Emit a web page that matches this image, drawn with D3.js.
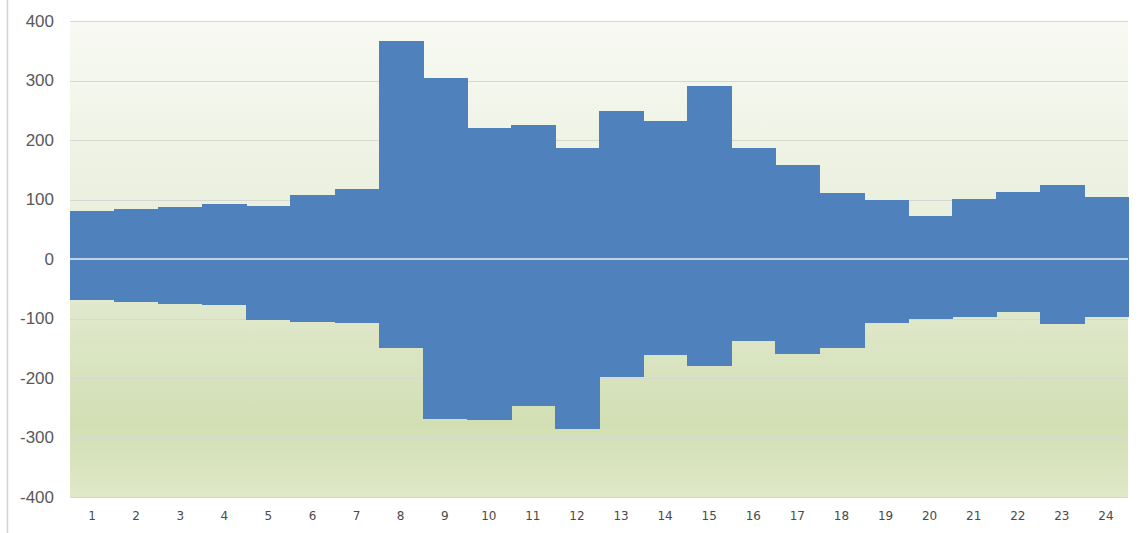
<!DOCTYPE html>
<html>
<head>
<meta charset="utf-8">
<script src="https://cdn.jsdelivr.net/npm/d3@7"></script>
<style>
  body { margin: 0; background: #fff; }
  svg { display: block; }
</style>
</head>
<body>
<div id="chart"></div>
<script>
// hours 1..24, upper and lower values
const categories = ['1','2','3','4','5','6','7','8','9','10','11','12','13','14','15','16','17','18','19','20','21','22','23','24']
const upperValues = [80, 84, 87, 92, 89, 107, 118, 366, 305, 220, 225, 186, 249, 232, 290, 186, 158, 111, 100, 72, 101, 112, 124, 105]
const lowerValues = [-69, -73, -75, -77, -103, -106, -107, -150, -269, -271, -247, -285, -198, -161, -180, -138, -160, -149, -108, -101, -97, -89, -110, -98]
const yTicks = [-400, -300, -200, -100, 0, 100, 200, 300, 400]

const W = 1140
const H = 533
const margin = {top: 21, right: 12, bottom: 36, left: 70}

const svg = d3.select('#chart').append('svg')
  .attr('width', W)
  .attr('height', H)

const x = d3.scaleBand()
  .domain(categories)
  .range([margin.left, W - margin.right])
  .padding(0)

const y = d3.scaleLinear()
  .domain([-400, 400])
  .range([H - margin.bottom, margin.top])

// background gradient of plot area
const defs = svg.append('defs')
const grad = defs.append('linearGradient')
  .attr('id', 'bg')
  .attr('x1', 0).attr('y1', 0).attr('x2', 0).attr('y2', 1)
grad.append('stop').attr('offset', '0%').attr('stop-color', '#f8faf3')
grad.append('stop').attr('offset', '45%').attr('stop-color', '#e8eedb')
grad.append('stop').attr('offset', '85%').attr('stop-color', '#d2dfb3')
grad.append('stop').attr('offset', '100%').attr('stop-color', '#dfe8c8')

// thin border line at far left
svg.append('line')
  .attr('x1', 7.5).attr('x2', 7.5)
  .attr('y1', 0).attr('y2', H)
  .attr('stroke', '#cdd1e2')
  .attr('stroke-width', 1.5)

svg.append('rect')
  .attr('x', margin.left)
  .attr('y', margin.top)
  .attr('width', W - margin.right - margin.left)
  .attr('height', H - margin.bottom - margin.top)
  .attr('fill', 'url(#bg)')

// gridlines
svg.append('g')
  .selectAll('line')
  .data(yTicks.filter(d => d !== 0))
  .enter().append('line')
  .attr('x1', margin.left)
  .attr('x2', W - margin.right)
  .attr('y1', d => Math.round(y(d)) + 0.5)
  .attr('y2', d => Math.round(y(d)) + 0.5)
  .attr('stroke', '#d6d8cf')
  .attr('stroke-width', 1)

// bars (no gaps)
let bars = svg.append('g').attr('shape-rendering', 'crispEdges')
bars.selectAll('rect.up')
  .data(categories).enter().append('rect')
  .attr('class', 'up')
  .attr('x', d => x(d))
  .attr('width', x.bandwidth() + 1)
  .attr('y', (d, i) => y(upperValues[i]))
  .attr('height', (d, i) => y(0) - y(upperValues[i]))
  .attr('fill', '#4f81bd')
bars.selectAll('rect.down')
  .data(categories).enter().append('rect')
  .attr('class', 'down')
  .attr('x', d => x(d))
  .attr('width', x.bandwidth() + 1)
  .attr('y', y(0))
  .attr('height', (d, i) => y(lowerValues[i]) - y(0))
  .attr('fill', '#4f81bd')

// zero line
svg.append('line')
  .attr('x1', margin.left)
  .attr('x2', W - margin.right)
  .attr('y1', y(0))
  .attr('y2', y(0))
  .attr('stroke', '#e8eef6')
  .attr('stroke-width', 1.5)

// y axis
const yAxis = d3.axisLeft(y).tickValues(yTicks).tickSize(0).tickPadding(0)
  .tickFormat(d => String(d))
let gy = svg.append('g')
  .attr('transform', 'translate(54,0)')
  .call(yAxis)
gy.select('.domain').remove()
gy.selectAll('text')
  .attr('font-family', 'Liberation Sans, Arial, sans-serif')
  .attr('font-size', 17)
  .attr('fill', '#595959')

// x axis
const xAxis = d3.axisBottom(x).tickSize(0).tickPadding(0)
let gx = svg.append('g')
  .attr('transform', 'translate(0,' + (H - margin.bottom + 14) + ')')
  .call(xAxis)
gx.select('.domain').remove()
gx.selectAll('text')
  .attr('font-family', 'DejaVu Sans, sans-serif')
  .attr('font-size', 12)
  .attr('fill', '#4a4a4a')
</script>
</body>
</html>
